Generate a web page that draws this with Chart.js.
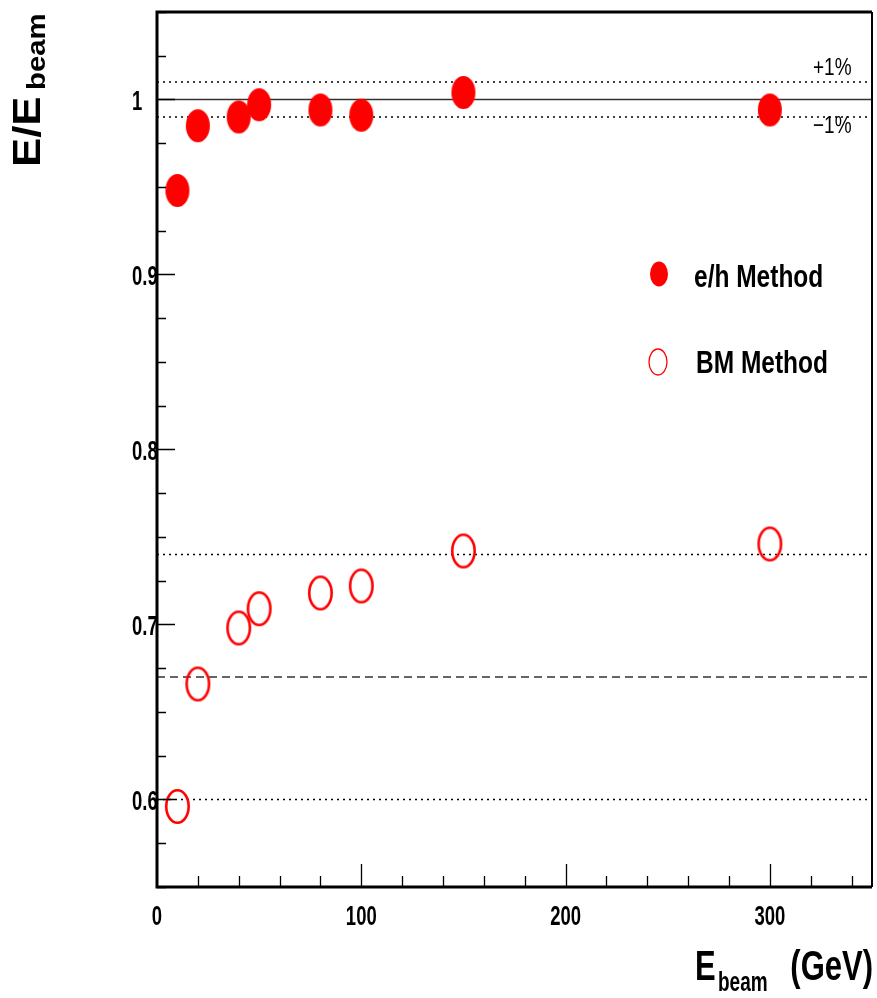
<!DOCTYPE html>
<html>
<head>
<meta charset="utf-8">
<script src="https://cdn.jsdelivr.net/npm/chart.js@4/dist/chart.umd.min.js"></script>
<style>
  html, body { margin: 0; padding: 0; background: #fff; }
  #wrap { width: 877px; height: 998px; }
</style>
</head>
<body>
<div id="wrap"><canvas id="ratioChart" width="877" height="998"></canvas></div>
<script>
// DATA

const energies = [10, 20, 40, 50, 80, 100, 150, 300];
const ehRatio = [0.948, 0.985, 0.990, 0.997, 0.994, 0.991, 1.004, 0.994];
const bmRatio = [0.596, 0.666, 0.698, 0.709, 0.718, 0.722, 0.742, 0.746];

const xTicks = [0, 100, 200, 300];
const xTickLabels = ['0', '100', '200', '300'];
const yTicks = [0.6, 0.7, 0.8, 0.9, 1];
const yTickLabels = ['0.6', '0.7', '0.8', '0.9', '1'];

const solidLevels = [1.0];
const dottedLevels = [1.01, 0.99, 0.74, 0.6];
const dashedLevels = [0.67];

const xMin = 0, xMax = 350;
const yMin = 0.55, yMax = 1.05;

const RED = '#ff0000';
const FONT = '"Liberation Sans", Arial, Helvetica, sans-serif';

// ellipse markers (the picture is stretched, circles look tall)
function ellipseImage(w, h, filled, lw) {
    const c = document.createElement('canvas');
    c.width = w + 4;
    c.height = h + 4;
    const g = c.getContext('2d');
    g.beginPath();
    if (filled) {
        g.ellipse(c.width / 2, c.height / 2, w / 2, h / 2, 0, 0, Math.PI * 2);
        g.fillStyle = RED;
        g.fill();
    } else {
        g.ellipse(c.width / 2, c.height / 2, (w - lw) / 2, (h - lw) / 2, 0, 0, Math.PI * 2);
        g.strokeStyle = RED;
        g.lineWidth = lw;
        g.stroke();
    }
    return c;
}

const filledMarker = ellipseImage(24, 33, true, 0);
const openMarker = ellipseImage(25, 35, false, 2.6);

function levelLine(v, color, width, dash) {
    return {
        type: 'line',
        data: [{x: xMin, y: v}, {x: xMax, y: v}],
        borderColor: color,
        borderWidth: width,
        borderDash: dash,
        pointRadius: 0,
        fill: false,
        order: 5
    };
}

const datasets = [
    {
        label: 'e/h Method',
        data: energies.map((e, i) => ({x: e, y: ehRatio[i]})),
        pointStyle: filledMarker,
        showLine: false,
        order: 0
    },
    {
        label: 'BM Method',
        data: energies.map((e, i) => ({x: e, y: bmRatio[i]})),
        pointStyle: openMarker,
        showLine: false,
        order: 1
    }
];
solidLevels.forEach(v => datasets.push(levelLine(v, '#333', 1.5, [])));
dottedLevels.forEach(v => datasets.push(levelLine(v, '#000', 1.3, [2, 4])));
dashedLevels.forEach(v => datasets.push(levelLine(v, '#333', 1.5, [8, 5])));

function txt(ctx, s, x, y, size, o) {
    o = o || {};
    ctx.save();
    ctx.translate(x, y);
    if (o.rot) ctx.rotate(o.rot);
    ctx.scale(o.sx || 1, o.sy || 1);
    ctx.font = (o.weight || 'bold') + ' ' + size + 'px ' + FONT;
    ctx.textAlign = o.align || 'left';
    ctx.textBaseline = 'alphabetic';
    ctx.fillStyle = '#000';
    ctx.fillText(s, 0, 0);
    ctx.restore();
}

// frame, ticks, labels, legend
const decor = {
    id: 'decor',
    afterDatasetsDraw(chart) {
        const ctx = chart.ctx;
        const a = chart.chartArea;
        const xs = chart.scales.x, ys = chart.scales.y;

        ctx.save();
        ctx.strokeStyle = '#000';
        ctx.lineWidth = 1.3;
        ctx.beginPath();
        for (let v = yMin; v <= yMax + 1e-9; v += 0.025) {
            const py = Math.round(ys.getPixelForValue(v)) + 0.5;
            const major = yTicks.some(t => Math.abs(t - v) < 1e-6);
            ctx.moveTo(a.left, py);
            ctx.lineTo(a.left + (major ? 18 : 9), py);
        }
        for (let v = 20; v < xMax; v += 20) {
            const px = Math.round(xs.getPixelForValue(v)) + 0.5;
            const major = xTicks.includes(v);
            ctx.moveTo(px, a.bottom);
            ctx.lineTo(px, a.bottom - (major ? 23 : 11));
        }
        ctx.stroke();

        ctx.lineWidth = 3;
        ctx.beginPath();
        ctx.moveTo(a.right, a.top);
        ctx.lineTo(a.left, a.top);
        ctx.lineTo(a.left, a.bottom);
        ctx.lineTo(a.right, a.bottom);
        ctx.stroke();
        ctx.lineWidth = 2;
        ctx.beginPath();
        ctx.moveTo(a.right, a.top);
        ctx.lineTo(a.right, a.bottom);
        ctx.stroke();
        ctx.restore();

        yTicks.forEach((v, i) => {
            txt(ctx, yTickLabels[i], 132, ys.getPixelForValue(v) + 10, 18.5, {sy: 1.5});
        });
        xTicks.forEach((v, i) => {
            txt(ctx, xTickLabels[i], xs.getPixelForValue(v), 925, 18.5, {sy: 1.5, align: 'center'});
        });

        // axis titles
        txt(ctx, 'E', 695, 980, 31, {sy: 1.38});
        txt(ctx, 'beam', 718, 991, 19, {sy: 1.5});
        txt(ctx, '(GeV)', 873, 980, 31, {sy: 1.38, align: 'right'});

        txt(ctx, 'E/E', 40, 167, 38, {rot: -Math.PI / 2, sx: 1.15});
        txt(ctx, 'beam', 45, 90, 25.5, {rot: -Math.PI / 2, sx: 1.15});

        // +-1% band labels
        txt(ctx, '+1%', 813, 75, 19, {weight: 'normal', sy: 1.25});
        txt(ctx, '\u22121%', 813, 133, 19, {weight: 'normal', sy: 1.25});

        // legend
        ctx.save();
        ctx.fillStyle = RED;
        ctx.beginPath();
        ctx.ellipse(659, 274, 9, 12.5, 0, 0, Math.PI * 2);
        ctx.fill();
        ctx.strokeStyle = RED;
        ctx.lineWidth = 1.3;
        ctx.beginPath();
        ctx.ellipse(658, 362, 9, 13, 0, 0, Math.PI * 2);
        ctx.stroke();
        ctx.restore();
        txt(ctx, 'e/h Method', 694, 287, 24.5, {sy: 1.25});
        txt(ctx, 'BM Method', 696, 373, 24.5, {sy: 1.25});
    }
};

new Chart(document.getElementById('ratioChart'), {
    type: 'scatter',
    data: { datasets: datasets },
    options: {
        responsive: false,
        animation: false,
        devicePixelRatio: 1,
        events: [],
        layout: { padding: { left: 157, top: 12, right: 5, bottom: 111 } },
        plugins: {
            legend: { display: false },
            tooltip: { enabled: false }
        },
        scales: {
            x: { type: 'linear', min: xMin, max: xMax, display: false },
            y: { type: 'linear', min: yMin, max: yMax, display: false }
        }
    },
    plugins: [decor]
});
</script>
</body>
</html>
